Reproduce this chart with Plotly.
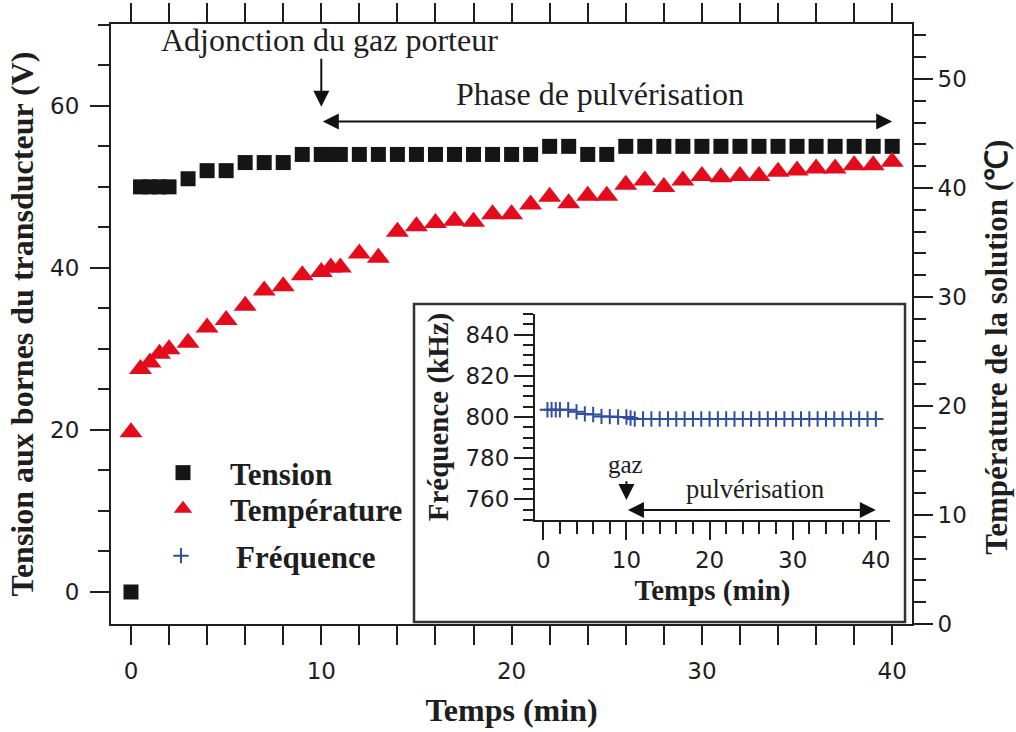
import plotly.graph_objects as go

# ---------------- data ----------------
time_min = [0, 0.5, 1, 1.5, 2, 3, 4, 5, 6, 7, 8, 9, 10, 10.5, 11, 12, 13, 14, 15, 16,
            17, 18, 19, 20, 21, 22, 23, 24, 25, 26, 27, 28, 29, 30, 31, 32, 33, 34, 35,
            36, 37, 38, 39, 40]
tension_V = [0, 50, 50, 50, 50, 51, 52, 52, 53, 53, 53, 54, 54, 54, 54, 54, 54, 54, 54, 54,
             54, 54, 54, 54, 54, 55, 55, 54, 54, 55, 55, 55, 55, 55, 55, 55, 55, 55, 55,
             55, 55, 55, 55, 55]
temperature_C = [17.6, 23.4, 24.0, 24.8, 25.2, 25.8, 27.2, 27.9, 29.2, 30.6, 31.0, 32.0, 32.3,
                 32.7, 32.7, 34.0, 33.6, 36.0, 36.5, 36.8, 37.0, 36.9, 37.6, 37.6, 38.5, 39.2,
                 38.6, 39.3, 39.3, 40.3, 40.7, 40.1, 40.7, 41.1, 41.0, 41.1, 41.1, 41.5, 41.6,
                 41.8, 41.8, 42.1, 42.1, 42.4]
freq_time_min = [0.5, 1, 1.5, 2, 3, 4, 5, 6, 7, 8, 9, 10, 10.5, 11, 12, 13, 14, 15, 16,
                 17, 18, 19, 20, 21, 22, 23, 24, 25, 26, 27, 28, 29, 30, 31, 32, 33, 34, 35,
                 36, 37, 38, 39, 40]
frequency_kHz = [803.5, 803.5, 803.5, 803.5, 803.5, 802.5, 801.5, 801.2, 800.3, 800.2, 800.0,
                 800.0, 799.5, 799.0, 799, 799, 799, 799, 799, 799, 799, 799, 799, 799, 799,
                 799, 799, 799, 799, 799, 799, 799, 799, 799, 799, 799, 799, 799, 799, 799,
                 799, 799, 799]

# ---------------- styles ----------------
INK = "#1e1e1e"
SERIF = "Liberation Serif"
SANS = "DejaVu Sans"
tickfont = dict(family=SANS, size=23, color=INK)
titlefont = dict(family=SERIF, size=32, color=INK, weight="bold")
insettitlefont = dict(family=SERIF, size=29, color=INK, weight="bold")


def axis_style(ticklen=19, minorlen=12, minor_dtick=2):
    return dict(showline=True, linecolor=INK, linewidth=2, ticks="outside",
                ticklen=ticklen, tickwidth=2, tickcolor=INK, showgrid=False,
                zeroline=False, tickfont=tickfont, automargin=False,
                minor=dict(ticks="outside", ticklen=minorlen, tickwidth=2,
                           tickcolor=INK, dtick=minor_dtick, showgrid=False))


fig = go.Figure()
fig.add_trace(go.Scatter(x=time_min, y=tension_V, mode="markers", name="Tension",
                         marker=dict(symbol="square", size=15, color="#151515"),
                         xaxis="x", yaxis="y", legend="legend"))
fig.add_trace(go.Scatter(x=time_min, y=temperature_C, mode="markers", name="Température",
                         marker=dict(symbol="triangle-up", size=20, color="#e30b1c"),
                         xaxis="x", yaxis="y2", legend="legend2"))
fig.add_trace(go.Scatter(x=freq_time_min, y=frequency_kHz, mode="markers", name="Fréquence",
                         marker=dict(symbol="cross-thin", size=11, color="#2f4ea0",
                                     line=dict(width=2, color="#2f4ea0")),
                         xaxis="x2", yaxis="y3", legend="legend3"))

xa = axis_style(19, 12, 2)
xa.update(domain=[0, 1], range=[-1.05, 41.04], dtick=10, tick0=0, mirror="allticks",
          anchor="y", ticklabelstandoff=6,
          title=dict(text="Temps (min)", font=titlefont, standoff=16))
ya = axis_style(19, 11, 5)
ya.update(range=[-3.95, 70.1], dtick=20, tick0=0, mirror=True, anchor="x",
          ticklabelstandoff=6,
          title=dict(text="Tension aux bornes du transducteur (V)", font=titlefont, standoff=7))
ya2 = axis_style(19, 12, 2)
ya2.update(range=[0, 55.05], dtick=10, tick0=0, overlaying="y", side="right", anchor="x")
xa2 = axis_style(18, 12, 2)
xa2.update(domain=[0.5293, 0.9725], anchor="y3", range=[-1, 41.7], dtick=10, tick0=0,
           title=dict(text="Temps (min)", font=insettitlefont, standoff=8))
ya3 = axis_style(19, 10, 5)
ya3.update(domain=[0.1733, 0.5167], anchor="x2", range=[750, 850], dtick=20, tick0=0,
           title=dict(text="Fréquence (kHz)", font=insettitlefont, standoff=8))

arrow = dict(showarrow=True, arrowhead=2, arrowsize=1.6, arrowwidth=2, arrowcolor="#111",
             text="", standoff=0, startstandoff=0)
annotations = [
    dict(x=1.106, y=0.462, xref="paper", yref="paper", textangle=-90, showarrow=False,
         xanchor="center", yanchor="middle",
         text="Température de la solution (℃)",
         font=dict(family=SERIF, size=31, color=INK, weight="bold")),
    dict(x=10.45, y=68.1, xref="x", yref="y", text="Adjonction du gaz porteur",
         showarrow=False, font=dict(family=SERIF, size=32, color=INK)),
    dict(x=24.65, y=61.4, xref="x", yref="y", text="Phase de pulvérisation",
         showarrow=False, font=dict(family=SERIF, size=32, color=INK)),
    dict(arrow, x=10, y=59.9, ax=10, ay=66.0, xref="x", yref="y", axref="x", ayref="y"),
    dict(arrow, x=40, y=58.06, ax=10, ay=58.06, xref="x", yref="y", axref="x", ayref="y",
         arrowside="end+start", startarrowhead=2, startarrowsize=1.6),
    dict(x=9.9, y=776.8, xref="x2", yref="y3", text="gaz", showarrow=False,
         font=dict(family=SERIF, size=25, color=INK)),
    dict(x=25.5, y=765.3, xref="x2", yref="y3", text="pulvérisation", showarrow=False,
         font=dict(family=SERIF, size=26.5, color=INK)),
    dict(arrow, x=10, y=759.7, ax=10, ay=769.6, xref="x2", yref="y3", axref="x2", ayref="y3"),
    dict(arrow, x=40, y=754.9, ax=10, ay=754.9, xref="x2", yref="y3", axref="x2", ayref="y3",
         arrowside="end+start", startarrowhead=2, startarrowsize=1.6),
]

shapes = [dict(type="rect", xref="paper", yref="paper", x0=0.3783, x1=0.9913,
               y0=0.0033, y1=0.5333, line=dict(color="#333", width=2.5),
               fillcolor="white", layer="below")]

legend_font = dict(family=SERIF, size=31, color=INK, weight="bold")


def legend_box(x, y, itemwidth):
    return dict(x=x, y=y, xanchor="left", yanchor="middle", bgcolor="rgba(0,0,0,0)",
                font=legend_font, itemwidth=itemwidth)


fig.update_layout(
    width=1016, height=732,
    margin=dict(l=111, r=104, t=24, b=108, autoexpand=False),
    paper_bgcolor="white", plot_bgcolor="white",
    xaxis=xa, yaxis=ya, yaxis2=ya2, xaxis2=xa2, yaxis3=ya3,
    annotations=annotations, shapes=shapes,
    legend=legend_box(0.0312, 0.2517, 84),
    legend2=legend_box(0.0312, 0.1917, 84),
    legend3=legend_box(0.0187, 0.1133, 100),
    showlegend=True,
)

fig.write_html("out.html")
